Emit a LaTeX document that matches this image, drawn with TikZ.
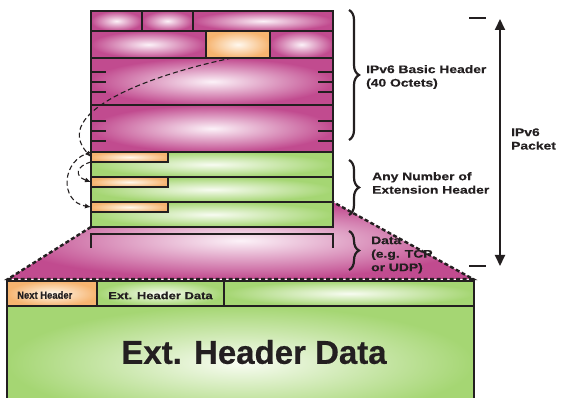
\documentclass[tikz,border=0pt]{standalone}
\usepackage{fontspec}
\setmainfont{Liberation Sans}
\newfontfamily\widebf[FakeStretch=1.26, FakeBold=0.5]{Liberation Sans Bold}
\newfontfamily\narrowbf[FakeStretch=0.9, FakeBold=0.4]{Liberation Sans Bold}
\newfontfamily\plainbf[FakeBold=0.6]{Liberation Sans Bold}
\usetikzlibrary{arrows.meta, decorations.pathreplacing}

\definecolor{ink}{RGB}{35,31,32}
\definecolor{magDark}{RGB}{193,75,143}
\definecolor{magLight}{RGB}{252,242,248}
\definecolor{grnDark}{RGB}{165,214,115}
\definecolor{grnLight}{RGB}{248,252,242}
\definecolor{orgDark}{RGB}{246,180,112}
\definecolor{orgLight}{RGB}{255,248,238}

\begin{document}
\begin{tikzpicture}[
            x=1pt, y=-1pt,
            >=Latex,
            field/.style={draw=ink, line width=2pt},
            hdr/.style={field, inner color=magLight, outer color=magDark},
            ext/.style={field, inner color=grnLight, outer color=grnDark},
            nxt field/.style={field, inner color=orgLight, outer color=orgDark, inner sep=0pt, outer sep=0pt},
            ruler tick/.style={ink, line width=2pt},
            hop/.style={ink, line width=1.1pt, dash pattern=on 5pt off 3pt, -{Latex[length=6pt, width=5pt]}},
            cut edge/.style={ink, line width=2.4pt, dash pattern=on 4pt off 2.5pt},
            part brace/.style={ink, line width=2.2pt, decorate, decoration={brace, amplitude=10pt}},
            side label/.style={font=\widebf\fontsize{11}{13.5}\selectfont, text=ink, align=left, anchor=west, inner sep=0pt},
        ]
        \clip (0,0) rectangle (563,398);
        \def\xl{91}
        \def\xr{333}

        % Magenta wedge opening the last extension header out to full width.
        \coordinate (cutL) at (\xl,227);
        \coordinate (cutR) at (\xr,202);
        \coordinate (baseL) at (8,279);
        \coordinate (baseR) at (473,279);
        \path[inner color=magLight, outer color=magDark] (cutL) -- (cutR) -- (baseR) -- (baseL) -- cycle;

        % Basic header: two split rows and two full rows.
        \path[hdr] (\xl,11) rectangle (142,31);
        \path[hdr] (142,11) rectangle (193,31);
        \path[hdr] (193,11) rectangle (\xr,31);
        \path[hdr] (\xl,31) rectangle (206,58);
        \path[hdr] (270,31) rectangle (\xr,58);
        \node[nxt field, minimum width=64pt, minimum height=27pt] (nh0) at (238,44.5) {};
        \path[hdr] (\xl,58) rectangle (\xr,105);
        \path[hdr] (\xl,105) rectangle (\xr,152);
        \foreach \y in {72.5,82.5,92.5,121.5,131.5,141.5} {
            \draw[ruler tick] (\xl,\y) -- +(15,0);
            \draw[ruler tick] (\xr,\y) -- +(-15,0);
        }

        % Extension headers, each with its next header field on top.
        \foreach \top/\n in {152/1,177/2,202/3} {
            \path[ext] (\xl,\top) rectangle (\xr,\top+25);
            \node[nxt field, minimum width=77pt, minimum height=10pt] (nh\n) at (129.5,\top+5) {};
        }

        % Payload bracket.
        \draw[ink, line width=2.4pt] (\xl,248) -- (\xl,234) -- (\xr,234) -- (\xr,248);

        % Chain of next header pointers.
        \draw[hop] ([xshift=-6pt]nh0.south) .. controls (150,75) and (50,112) .. (nh1.west);
        \draw[hop] (nh1.south west) .. controls (76,166) and (74,176) .. (nh2.west);
        \draw[hop] (nh1.north west) .. controls (60,160) and (60,202) .. (nh3.west);

        % Enlarged extension header.
        \path[ext] (7,306) rectangle (474,420);
        \node[nxt field, minimum width=90pt, minimum height=25pt] (nhOut) at (52,293.5) {};
        \path[ext] (97,281) rectangle (224,306);
        \path[ext] (224,281) rectangle (474,306);
        \node[font=\narrowbf\fontsize{10.5}{12}\selectfont, text=ink, anchor=west, inner sep=0pt] (nhText) at (17,295) {Next Header};
        \node[font=\widebf\fontsize{10.3}{12}\selectfont, text=ink, inner sep=0pt] (extSmall) at (160.5,295.5) {Ext. Header Data};
        \node[font=\plainbf\fontsize{33}{36}\selectfont, text=ink, inner sep=0pt] (extBig) at (254,352) {Ext. Header Data};
        \draw[cut edge] (cutL) -- (baseL) -- (baseR) -- (cutR);

        % Braces and their labels.
        \draw[part brace] (349,10) -- (349,140);
        \draw[part brace] (349,160) -- (349,215);
        \draw[part brace] (349,231) -- (349,270);
        \node[side label] (basicLbl) at (366,77) {IPv6 Basic Header\\(40 Octets)};
        \node[side label] (extLbl) at (372,183) {Any Number of\\Extension Header};
        \node[side label] (dataLbl) at (371,255) {Data\\(e.g. TCP\\or UDP)};

        % Overall packet length.
        \coordinate (pktTop) at (500,19);
        \coordinate (pktBot) at (500,266);
        \draw[ink, line width=2pt, {Triangle[length=11pt, width=10pt]}-{Triangle[length=11pt, width=10pt]}] (pktTop) -- (pktBot);
        \draw[ruler tick] (469,18) -- (486,18);
        \draw[ruler tick] (469,266) -- (486,266);
        \node[side label] (pktLbl) at (511,139) {IPv6\\Packet};
\end{tikzpicture}
\end{document}
